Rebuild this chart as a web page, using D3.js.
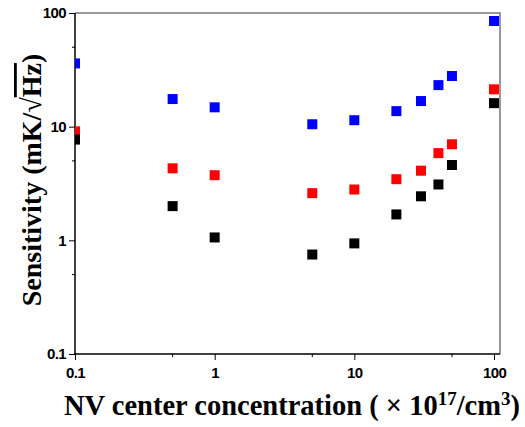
<!DOCTYPE html>
<html>
<head>
<meta charset="utf-8">
<script src="https://cdn.jsdelivr.net/npm/d3@7"></script>
<style>
  body { margin: 0; background: #fff; }
  svg { display: block; }
</style>
</head>
<body>
<svg id="chart" width="525" height="427"></svg>
<script>
// concentrations (x10^17 /cm^3)
const conc = [0.1, 0.5, 1, 5, 10, 20, 30, 40, 50, 100];
const blueVals = [36, 17.5, 14.8, 10.5, 11.4, 13.7, 16.8, 23.2, 27.9, 85];
const redVals = [9.1, 4.3, 3.74, 2.6, 2.8, 3.45, 4.1, 5.85, 7.0, 21.3];
const blackVals = [7.7, 2.0, 1.06, 0.75, 0.94, 1.69, 2.44, 3.1, 4.6, 16.1];
const majorTicks = [0.1, 1, 10, 100];
const minorTicks = [0.5, 5, 50];

const series = [
  { name: "blue", color: "#0000ff", values: blueVals },
  { name: "red", color: "#ff0000", values: redVals },
  { name: "black", color: "#000000", values: blackVals }
];

const svg = d3.select("#chart");
const plotL = 75, plotR = 500, plotT = 13, plotB = 354;

const x = d3.scaleLog().domain([0.1, 100]).range([plotL, 494]);
const y = d3.scaleLog().domain([0.1, 100]).range([plotB, plotT]);

svg.append("defs").append("clipPath").attr("id", "plotClip")
  .append("rect")
  .attr("x", plotL).attr("y", plotT)
  .attr("width", plotR - plotL).attr("height", plotB - plotT);

// gray top / right frame
svg.append("path")
  .attr("d", `M${plotL},${plotT}H${plotR}V${plotB}`)
  .attr("fill", "none")
  .attr("stroke", "#777")
  .attr("stroke-width", 1.5);

const tickFont = "'Liberation Sans', Arial, sans-serif";

// x axis
const xAxis = svg.append("g").attr("transform", `translate(0,${plotB})`);
xAxis.call(d3.axisBottom(x).tickValues(majorTicks).tickSize(6).tickFormat(d3.format("~g")));
xAxis.append("g").selectAll("line")
  .data(minorTicks)
  .join("line")
  .attr("x1", d => x(d)).attr("x2", d => x(d))
  .attr("y1", 0).attr("y2", 3)
  .attr("stroke", "#000");
xAxis.select(".domain").attr("d", `M${plotL - 1},0H${plotR}`).attr("stroke-width", 1.5);

// y axis
const yAxis = svg.append("g").attr("transform", `translate(${plotL},0)`);
yAxis.call(d3.axisLeft(y).tickValues(majorTicks).tickSize(6).tickFormat(d3.format("~g")));
yAxis.append("g").selectAll("line")
  .data(minorTicks)
  .join("line")
  .attr("y1", d => y(d)).attr("y2", d => y(d))
  .attr("x1", 0).attr("x2", -3)
  .attr("stroke", "#000");
yAxis.select(".domain").attr("d", `M0,${plotT}V${plotB}`).attr("stroke-width", 1.5);

svg.selectAll(".tick text")
  .attr("font-family", tickFont)
  .attr("font-weight", "bold")
  .attr("font-size", 15)
  .attr("letter-spacing", -0.6)
  .attr("fill", "#000");
xAxis.selectAll(".tick text").attr("dy", "1.0em");
yAxis.selectAll(".tick text").attr("x", -9);

// markers
const plot = svg.append("g").attr("clip-path", "url(#plotClip)");
series.forEach(s => {
  plot.append("g").selectAll("rect")
    .data(s.values.map((v, i) => ({ c: conc[i], v })))
    .join("rect")
    .attr("x", d => x(d.c) - 5)
    .attr("y", d => y(d.v) - 5)
    .attr("width", 10)
    .attr("height", 10)
    .attr("fill", s.color);
});

const labelFont = "'Liberation Serif', 'Times New Roman', serif";

// x label
const xl = svg.append("text")
  .attr("x", 292).attr("y", 415)
  .attr("text-anchor", "middle")
  .attr("font-family", labelFont)
  .attr("font-weight", "bold")
  .attr("font-size", 28.5)
  .attr("fill", "#000");
xl.append("tspan").text("NV center concentration ( \u00d7 10");
xl.append("tspan").attr("font-size", 19).attr("dy", -10).text("17");
xl.append("tspan").attr("dy", 10).text("/cm");
xl.append("tspan").attr("font-size", 19).attr("dy", -10).text("3");
xl.append("tspan").attr("dy", 10).text(")");

// y label
const yl = svg.append("text")
  .attr("transform", "translate(41,180) rotate(-90)")
  .attr("text-anchor", "middle")
  .attr("font-family", labelFont)
  .attr("font-weight", "bold")
  .attr("font-size", 28)
  .attr("fill", "#000");
yl.append("tspan").text("Sensitivity (mK/\u221a");
yl.append("tspan").attr("text-decoration", "overline").text("Hz");
yl.append("tspan").text(")");
</script>
</body>
</html>
